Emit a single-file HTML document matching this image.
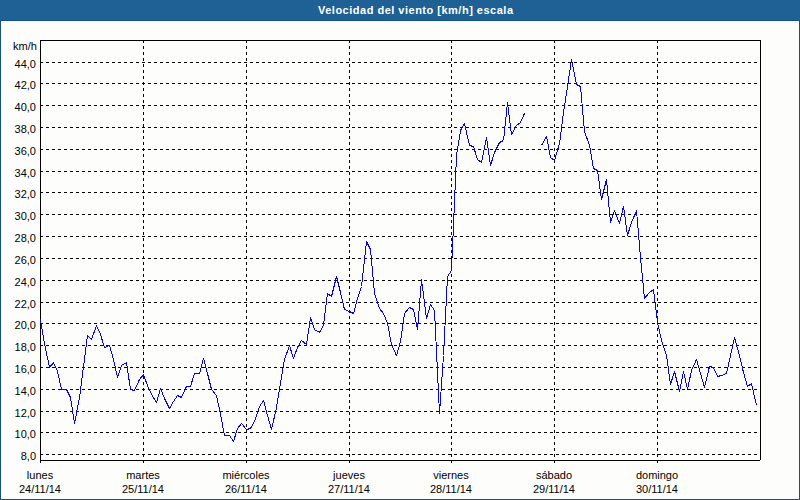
<!DOCTYPE html>
<html><head><meta charset="utf-8"><style>
html,body{margin:0;padding:0;}
body{width:800px;height:500px;position:relative;overflow:hidden;background:#fdfefc;font-family:"Liberation Sans",sans-serif;font-size:11px;color:#000;}
#hdr{position:absolute;left:0;top:0;width:800px;height:20px;}
#hdrb{position:absolute;left:0;top:20px;width:800px;height:1px;background:#11518c;}
#bl{position:absolute;left:0;top:20px;width:1px;height:480px;background:#11518c;}
#br{position:absolute;left:799px;top:20px;width:1px;height:480px;background:#11518c;}
#bb{position:absolute;left:0;top:499px;width:800px;height:1px;background:#11518c;}
#title{position:absolute;left:318px;top:4px;font-weight:bold;color:#fff;white-space:nowrap;line-height:13px;letter-spacing:0.5px;}
svg{position:absolute;left:0;top:0;}
.yl{position:absolute;left:0;width:36px;text-align:right;line-height:13px;white-space:nowrap;}
.xl{position:absolute;width:100px;text-align:center;line-height:16px;white-space:nowrap;}
#unit{position:absolute;left:13px;top:40px;line-height:13px;}
</style></head><body>
<svg id="hdr" width="800" height="20" shape-rendering="crispEdges"><defs><pattern id="dp" width="4" height="6" patternUnits="userSpaceOnUse"><rect width="4" height="6" fill="#1e5f94"/><rect x="2" y="1" width="1" height="1" fill="#2363a8"/><rect x="1" y="3" width="1" height="1" fill="#2363a8"/><rect x="0" y="5" width="1" height="1" fill="#2363a8"/></pattern></defs><rect width="800" height="20" fill="url(#dp)"/></svg><div id="hdrb"></div><div id="bl"></div><div id="br"></div><div id="bb"></div>
<div id="title">Velocidad del viento [km/h] escala</div>
<div id="unit">km/h</div>
<div class="yl" style="top:58px">44,0</div><div class="yl" style="top:79px">42,0</div><div class="yl" style="top:101px">40,0</div><div class="yl" style="top:123px">38,0</div><div class="yl" style="top:145px">36,0</div><div class="yl" style="top:167px">34,0</div><div class="yl" style="top:188px">32,0</div><div class="yl" style="top:210px">30,0</div><div class="yl" style="top:232px">28,0</div><div class="yl" style="top:254px">26,0</div><div class="yl" style="top:276px">24,0</div><div class="yl" style="top:298px">22,0</div><div class="yl" style="top:319px">20,0</div><div class="yl" style="top:341px">18,0</div><div class="yl" style="top:363px">16,0</div><div class="yl" style="top:385px">14,0</div><div class="yl" style="top:407px">12,0</div><div class="yl" style="top:428px">10,0</div><div class="yl" style="top:450px">8,0</div>
<div class="xl" style="left:-10px;top:467px">lunes</div><div class="xl" style="left:-10px;top:481px">24/11/14</div><div class="xl" style="left:93px;top:467px">martes</div><div class="xl" style="left:93px;top:481px">25/11/14</div><div class="xl" style="left:196px;top:467px">miércoles</div><div class="xl" style="left:196px;top:481px">26/11/14</div><div class="xl" style="left:299px;top:467px">jueves</div><div class="xl" style="left:299px;top:481px">27/11/14</div><div class="xl" style="left:401px;top:467px">viernes</div><div class="xl" style="left:401px;top:481px">28/11/14</div><div class="xl" style="left:504px;top:467px">sábado</div><div class="xl" style="left:504px;top:481px">29/11/14</div><div class="xl" style="left:607px;top:467px">domingo</div><div class="xl" style="left:607px;top:481px">30/11/14</div>
<svg width="800" height="500" shape-rendering="crispEdges">
<g stroke="#000" stroke-width="1" stroke-dasharray="3 3" fill="none"><line x1="40" y1="62.5" x2="760" y2="62.5"/><line x1="40" y1="83.5" x2="760" y2="83.5"/><line x1="40" y1="105.5" x2="760" y2="105.5"/><line x1="40" y1="127.5" x2="760" y2="127.5"/><line x1="40" y1="149.5" x2="760" y2="149.5"/><line x1="40" y1="171.5" x2="760" y2="171.5"/><line x1="40" y1="192.5" x2="760" y2="192.5"/><line x1="40" y1="214.5" x2="760" y2="214.5"/><line x1="40" y1="236.5" x2="760" y2="236.5"/><line x1="40" y1="258.5" x2="760" y2="258.5"/><line x1="40" y1="280.5" x2="760" y2="280.5"/><line x1="40" y1="302.5" x2="760" y2="302.5"/><line x1="40" y1="323.5" x2="760" y2="323.5"/><line x1="40" y1="345.5" x2="760" y2="345.5"/><line x1="40" y1="367.5" x2="760" y2="367.5"/><line x1="40" y1="389.5" x2="760" y2="389.5"/><line x1="40" y1="411.5" x2="760" y2="411.5"/><line x1="40" y1="432.5" x2="760" y2="432.5"/><line x1="40" y1="454.5" x2="760" y2="454.5"/><line x1="143.5" y1="40" x2="143.5" y2="460"/><line x1="246.5" y1="40" x2="246.5" y2="460"/><line x1="349.5" y1="40" x2="349.5" y2="460"/><line x1="451.5" y1="40" x2="451.5" y2="460"/><line x1="554.5" y1="40" x2="554.5" y2="460"/><line x1="657.5" y1="40" x2="657.5" y2="460"/></g>
<g stroke="#000" stroke-width="1" fill="none"><line x1="40.5" y1="461" x2="40.5" y2="463"/><line x1="143.5" y1="461" x2="143.5" y2="463"/><line x1="246.5" y1="461" x2="246.5" y2="463"/><line x1="349.5" y1="461" x2="349.5" y2="463"/><line x1="451.5" y1="461" x2="451.5" y2="463"/><line x1="554.5" y1="461" x2="554.5" y2="463"/><line x1="657.5" y1="461" x2="657.5" y2="463"/><path d="M40,40.5H761M40.5,40V461M40,460.5H760M760.5,40V460"/></g>
<g stroke="#0000ff" stroke-width="1" fill="none" stroke-linejoin="bevel"><polyline points="40.5,319.5 44.5,343.5 49.5,367.5 53.5,362.5 57.5,371.5 61.5,389.5 66.5,389.5 70.5,397.5 74.5,423.5 79.5,397.5 83.5,366.5 87.5,335.5 91.5,339.5 96.5,325.5 100.5,334.5 104.5,347.5 109.5,345.5 113.5,359.5 117.5,377.5 121.5,365.5 126.5,362.5 130.5,389.5 134.5,390.5 139.5,379.5 143.5,374.5 147.5,385.5 151.5,394.5 156.5,402.5 160.5,388.5 164.5,398.5 169.5,408.5 173.5,401.5 177.5,395.5 181.5,397.5 186.5,386.5 190.5,386.5 194.5,373.5 199.5,373.5 203.5,358.5 207.5,373.5 211.5,389.5 216.5,395.5 220.5,414.5 224.5,435.5 229.5,435.5 233.5,441.5 237.5,428.5 241.5,423.5 246.5,429.5 250.5,428.5 254.5,421.5 259.5,406.5 263.5,400.5 267.5,415.5 271.5,429.5 276.5,407.5 280.5,383.5 284.5,359.5 289.5,345.5 293.5,358.5 297.5,347.5 301.5,340.5 306.5,344.5 310.5,317.5 314.5,329.5 319.5,332.5 323.5,325.5 327.5,293.5 331.5,296.5 336.5,276.5 340.5,292.5 344.5,309.5 349.5,311.5 353.5,313.5 357.5,298.5 361.5,286.5 366.5,241.5 370.5,249.5 374.5,293.5 379.5,308.5 383.5,313.5 387.5,323.5 391.5,344.5 396.5,355.5 400.5,341.5 404.5,313.5 409.5,307.5 413.5,309.5 417.5,329.5 421.5,279.5 426.5,318.5 430.5,304.5 434.5,310.5 439.5,413.5 443.5,355.5 447.5,276.5 451.5,270.5 456.5,155.5 460.5,130.5 464.5,123.5 469.5,145.5 473.5,146.5 477.5,159.5 481.5,162.5 486.5,137.5 490.5,165.5 494.5,152.5 499.5,142.5 503.5,140.5 507.5,102.5 511.5,134.5 516.5,125.5 520.5,122.5 524.5,113.5"/><polyline points="541.5,145.5 546.5,136.5 550.5,157.5 554.5,160.5 559.5,143.5 563.5,112.5 567.5,86.5 571.5,59.5 576.5,84.5 580.5,86.5 584.5,131.5 589.5,145.5 593.5,168.5 597.5,170.5 601.5,199.5 606.5,179.5 610.5,222.5 614.5,210.5 619.5,223.5 623.5,206.5 627.5,235.5 631.5,222.5 636.5,210.5 640.5,257.5 644.5,298.5 649.5,292.5 653.5,289.5 657.5,322.5 661.5,340.5 666.5,355.5 670.5,384.5 674.5,371.5 679.5,391.5 683.5,371.5 687.5,389.5 691.5,370.5 696.5,359.5 700.5,373.5 704.5,387.5 709.5,366.5 713.5,367.5 717.5,376.5 721.5,375.5 726.5,373.5 730.5,355.5 734.5,337.5 739.5,355.5 743.5,372.5 747.5,386.5 751.5,383.5 756.5,405.5"/></g>
</svg>
</body></html>
